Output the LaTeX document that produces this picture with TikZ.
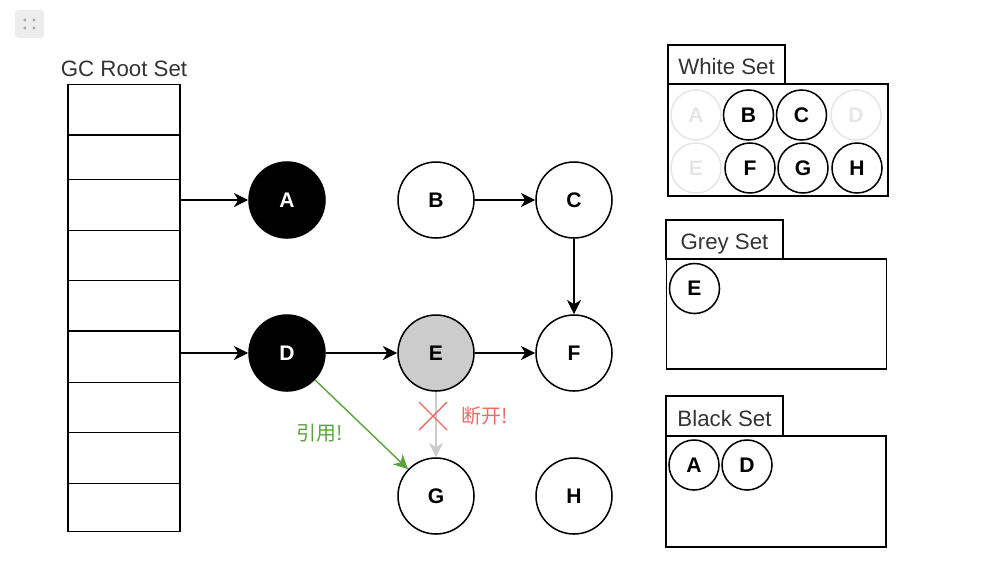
\documentclass[tikz,border=0pt]{standalone}
\usepackage{fontspec}
\setmainfont{Liberation Sans}
\newfontfamily\cjk{Noto Sans CJK SC}
\usetikzlibrary{calc, positioning}
\usetikzlibrary{arrows.meta}

\definecolor{greyfill}{HTML}{CCCCCC}
\definecolor{fadegrey}{HTML}{E6E6E6}
\definecolor{refgreen}{HTML}{5AA33A}
\definecolor{cutred}{HTML}{EA6B66}
\definecolor{titlegrey}{HTML}{333333}

\begin{document}
\begin{tikzpicture}[x=0.03cm, y=-0.03cm,
  obj/.style={circle, draw, line width=1.3pt, minimum size=2.28cm, inner sep=0pt,
    font=\fontsize{18}{20}\selectfont\bfseries},
  blackobj/.style={obj, fill=black, text=white},
  greyobj/.style={obj, fill=greyfill},
  member/.style={circle, draw, line width=1.3pt, minimum size=1.5cm, inner sep=0pt,
    font=\fontsize{18}{20}\selectfont\bfseries},
  faded/.style={member, draw=fadegrey, text=fadegrey},
  rowbox/.style={draw, line width=1.3pt, minimum width=3.36cm, inner sep=0pt},
  settab/.style={draw, line width=1.3pt, minimum width=3.51cm, minimum height=1.17cm,
    inner sep=0pt, text height=6.1mm, text depth=0pt, text=titlegrey,
    font=\fontsize{19}{22}\selectfont},
  setbox/.style={draw, line width=1.3pt, minimum width=6.6cm, inner sep=0pt},
  arr/.style={-{Stealth[length=4.3mm, width=4.2mm, inset=1.3mm]}, line width=1.2pt}]
\useasboundingbox (0,0) rectangle (982,578);

% handle icon
\draw[fill=fadegrey!70, draw=none, rounded corners=1mm] (15,10) rectangle (44,38);
\foreach \x in {25,34} {
  \foreach \y in {20,28} {
    \fill[black!35] (\x,\y) circle[radius=1.6];
  }
}

% GC roots
\node[text=titlegrey, font=\fontsize{19}{22}\selectfont] (roottitle) at (124,69) {GC Root Set};
\foreach \t/\b [count=\i] in {84.7/135, 135/179.3, 179.3/230.7, 230.7/280.7, 280.7/331,
    331/382.3, 382.3/432.3, 432.3/483.3, 483.3/531.7} {
  \node[rowbox, minimum height={(\b-\t)*0.3mm}] (r\i) at (124,{(\t+\b)/2}) {};
}

% heap objects
\node[blackobj] (A) at (287,200) {A};
\node[obj] (B) at (436,200) {B};
\node[obj] (C) at (574,200) {C};
\node[blackobj] (D) at (287,353) {D};
\node[greyobj] (E) at (436,353) {E};
\node[obj] (F) at (574,353) {F};
\node[obj] (G) at (436,496) {G};
\node[obj] (H) at (574,496) {H};

\draw[arr] (r3.east |- A) -- (A);
\draw[arr] (r6.east |- D) -- (D);
\draw[arr] (B) -- (C);
\draw[arr] (C) -- (F);
\draw[arr] (D) -- (E);
\draw[arr] (E) -- (F);
\draw[arr, greyfill] (E) -- (G);
\draw[arr, refgreen] (D) -- (G);
\node[text=refgreen, font=\cjk\fontsize{17}{20}\selectfont] (reflabel) at (320,433) {引用!};

% cut mark
\coordinate (cut) at (433,416);
\draw[cutred, line width=1.2pt] ($(cut)+(-14,-14)$) -- ($(cut)+(14,14)$)
  ($(cut)+(14,-14)$) -- ($(cut)+(-14,14)$);
\node[text=cutred, font=\cjk\fontsize{17}{20}\selectfont] (cutlabel) at (485,416) {断开!};

% white set
\node[settab] (wtab) at (726.5,64.5) {White Set};
\node[setbox, minimum height=3.36cm] (wbox) at (778,140) {};
\node[faded] (wA) at (696,115) {A};
\node[member] (wB) at (748.5,115) {B};
\node[member] (wC) at (801.5,115) {C};
\node[faded] (wD) at (856,115) {D};
\node[faded] (wE) at (696,168) {E};
\node[member] (wF) at (750,168) {F};
\node[member] (wG) at (803,168) {G};
\node[member] (wH) at (857,168) {H};

% grey set
\node[settab] (gtab) at (724.5,239.5) {Grey Set};
\node[setbox, minimum height=3.3cm] (gbox) at (776.5,314) {};
\node[member] (gE) at (694.5,288.5) {E};

% black set
\node[settab, minimum height=1.2cm] (btab) at (724.5,416) {Black Set};
\node[setbox, minimum height=3.33cm] (bbox) at (776,491.5) {};
\node[member] (bA) at (694,465) {A};
\node[member] (bD) at (747,465) {D};
\end{tikzpicture}
\end{document}
